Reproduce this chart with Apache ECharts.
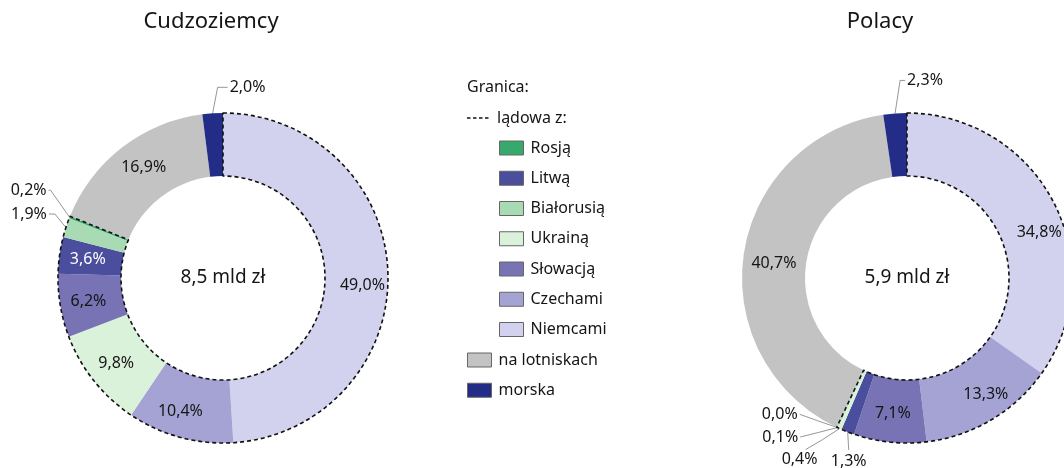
<!DOCTYPE html>
<html><head><meta charset="utf-8">
<script src="https://cdn.jsdelivr.net/npm/echarts@6/dist/echarts.min.js"></script>
<style>html,body{margin:0;padding:0;background:#fff}#c{width:1064px;height:468px}</style>
</head><body><div id="c"></div>
<script>
// ---------- DATA ----------
const landBorders = ['Rosją','Litwą','Białorusią','Ukrainą','Słowacją','Czechami','Niemcami'];
const otherBorders = ['na lotniskach','morska'];
const titles = ['Cudzoziemcy','Polacy'];
const totals = ['8,5 mld zł','5,9 mld zł'];
const foreignersNames = ['Niemcami','Czechami','Ukrainą','Słowacją','Litwą','Białorusią','Rosją','na lotniskach','morska'];
const foreignersValues = [49.0,10.4,9.8,6.2,3.6,1.9,0.2,16.9,2.0];
const polesNames = ['Niemcami','Czechami','Słowacją','Litwą','Ukrainą','Białorusią','Rosją','na lotniskach','morska'];
const polesValues = [34.8,13.3,7.1,1.3,0.4,0.1,0.0,40.7,2.3];

// ---------- STYLE / LAYOUT ----------
const FONT = '"Noto Sans", "Open Sans", sans-serif';
const TXT = '#151515';
const colors = {
  'Rosją':'#38a96c','Litwą':'#4a4e9c','Białorusią':'#a8dbb4','Ukrainą':'#dbf2da',
  'Słowacją':'#7773b5','Czechami':'#a5a3d4','Niemcami':'#d2d2ee',
  'na lotniskach':'#c2c3c2','morska':'#232d87'
};
const centers = [[223,278],[907,278]];
const titlePos = [[211,22],[880,22]];
const radius = [102,165];
// outside label offsets relative to slice outer edge point
const outside = [
  { 'morska':{bend:[5,-26],end:[15,-26],text:[17,-26],align:'left'},
    'Rosją':{bend:[-19,-27],end:[-21,-27],text:[-23,-27],align:'right'},
    'Białorusią':{bend:[-11,-13.5],end:[-17,-13.5],text:[-19,-13.5],align:'right'} },
  { 'morska':{bend:[5,-33],end:[10,-33],text:[12,-33],align:'left'},
    'Litwą':{bend:[0.5,9],end:[1,18],text:[1,29],align:'center'},
    'Ukrainą':{bend:[-17,11],end:[-34,21],text:[-40,31],align:'center'},
    'Białorusią':{bend:[-19,5],end:[-37,9.5],text:[-39,9.5],align:'right'},
    'Rosją':{bend:[-19,-6.5],end:[-37,-13],text:[-39,-13],align:'right'} }
];
const insideShift = [
  { 'Niemcami':[3,12], 'Czechami':[-7,2], 'na lotniskach':[4,-2] },
  { 'Niemcami':[11,17], 'Czechami':[9,-1], 'na lotniskach':[2,6] }
];
const whiteLabels = [['Litwą'],[]];

const fmt = v => v.toFixed(1).replace('.', ',') + '%';

function buildSeries(idx, names, values){
  const out = outside[idx];
  const data = names.map((n,i)=>{
    const d = {name:n, value:values[i], itemStyle:{color:colors[n]}};
    if (out[n]) {
      d.label = {position:'outside'};
      d.labelLine = {show:true};
    } else if (whiteLabels[idx].indexOf(n) >= 0) {
      d.label = {color:'#ffffff'};
    }
    return d;
  });
  let land = 0, other = 0;
  names.forEach((n,i)=>{ if (landBorders.indexOf(n)>=0) land += values[i]; else other += values[i]; });
  const main = {
    type:'pie', center:centers[idx], radius:radius, startAngle:90, clockwise:true,
    avoidLabelOverlap:false, animation:false, z:2,
    itemStyle:{borderWidth:0},
    emphasis:{disabled:true},
    label:{show:true, position:'inside', formatter:p=>fmt(p.value),
      color:TXT, fontSize:16, fontFamily:FONT},
    labelLine:{show:false, lineStyle:{color:'#8a8a8a', width:0.9}},
    labelLayout: function(p){
      const n = names[p.dataIndex];
      const c = out[n];
      if (c && p.labelLinePoints && p.labelLinePoints.length) {
        const a = p.labelLinePoints[0];
        return {
          x:a[0]+c.text[0], y:a[1]+c.text[1], align:c.align, verticalAlign:'middle',
          labelLinePoints:[[a[0],a[1]],[a[0]+c.bend[0],a[1]+c.bend[1]],[a[0]+c.end[0],a[1]+c.end[1]]]
        };
      }
      const s = insideShift[idx][n];
      if (s) return {dx:s[0], dy:s[1]};
      return {};
    },
    data:data
  };
  const outline = {
    type:'pie', center:centers[idx], radius:radius, startAngle:90, clockwise:true,
    silent:true, animation:false, z:3, label:{show:false}, labelLine:{show:false},
    emphasis:{disabled:true}, tooltip:{show:false},
    data:[
      {name:'__land'+idx, value:land, itemStyle:{color:'rgba(0,0,0,0)', borderColor:'#111', borderWidth:1.6, borderType:[4,3]}},
      {name:'__other'+idx, value:other, itemStyle:{color:'rgba(0,0,0,0)', borderWidth:0}}
    ]
  };
  return [main, outline];
}

const chart = echarts.init(document.getElementById('c'), null, {renderer:'canvas'});
const legendCommon = {
  orient:'vertical', itemWidth:24, itemHeight:14, itemGap:14.25, padding:0,
  selectedMode:false, icon:'rect',
  itemStyle:{borderColor:'#666', borderWidth:1},
  textStyle:{fontSize:16, fontFamily:FONT, color:TXT, padding:[0,0,0,2]}
};
const graphics = [];
titles.forEach((t,i)=>{
  graphics.push({type:'text', x:titlePos[i][0], y:titlePos[i][1], style:{text:t, font:'22px '+FONT, fill:TXT, align:'center', verticalAlign:'middle'}});
  graphics.push({type:'text', x:centers[i][0], y:centers[i][1], style:{text:totals[i], font:'19px '+FONT, fill:TXT, align:'center', verticalAlign:'middle'}});
});
graphics.push({type:'text', x:467, y:87, style:{text:'Granica:', font:'16px '+FONT, fill:TXT, align:'left', verticalAlign:'middle'}});
graphics.push({type:'line', shape:{x1:467,y1:118,x2:491,y2:118}, style:{stroke:'#111', lineWidth:1.6, lineDash:[3.5,2.5]}});
graphics.push({type:'text', x:497, y:118, style:{text:'lądowa z:', font:'16px '+FONT, fill:TXT, align:'left', verticalAlign:'middle'}});

chart.setOption({
  animation:false,
  legend:[
    Object.assign({}, legendCommon, {left:499, top:140, data:landBorders}),
    Object.assign({}, legendCommon, {left:467, top:352, data:otherBorders})
  ],
  graphic:graphics,
  series:[].concat(buildSeries(0, foreignersNames, foreignersValues), buildSeries(1, polesNames, polesValues))
});
</script></body></html>
